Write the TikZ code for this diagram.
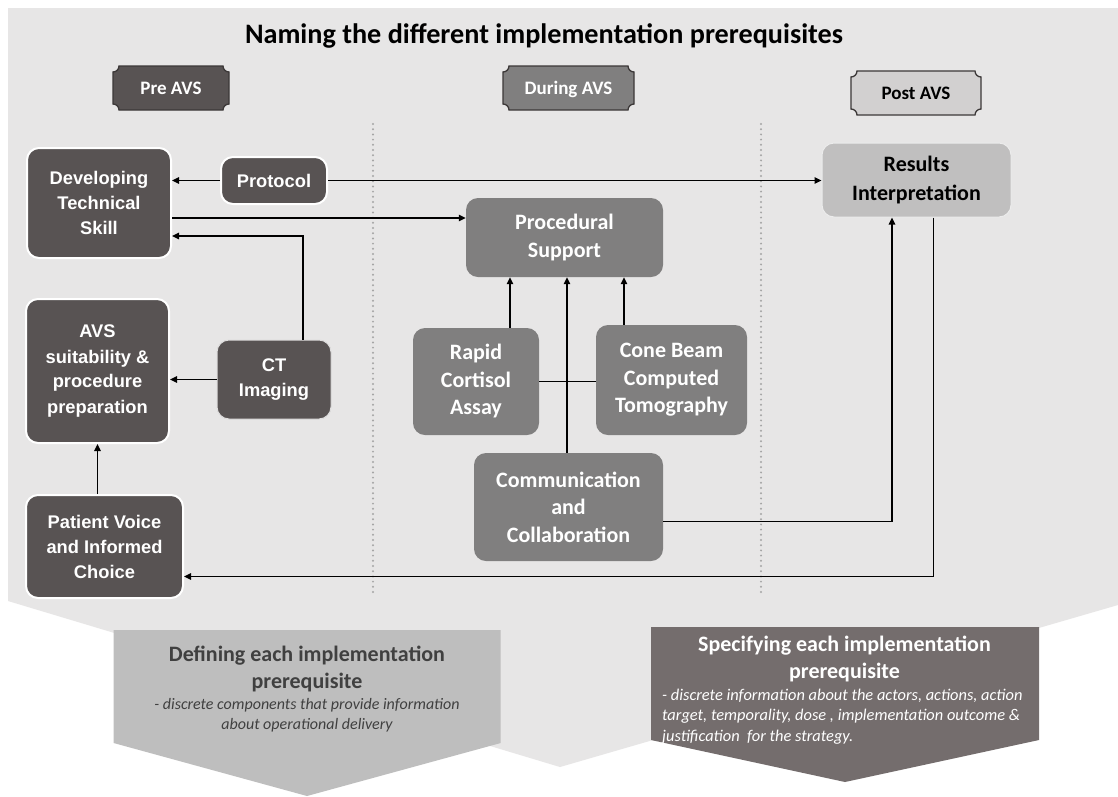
\documentclass[tikz,border=0pt]{standalone}
\usepackage{fontspec}
\setmainfont{Carlito}
\newfontfamily\arialfont{Liberation Sans}
\usetikzlibrary{arrows.meta}
\definecolor{bgc}{RGB}{231,230,230}
\definecolor{darkc}{RGB}{88,83,83}
\definecolor{midc}{RGB}{128,127,127}
\definecolor{resc}{RGB}{192,191,191}
\definecolor{postc}{RGB}{210,208,208}
\definecolor{plqline}{RGB}{60,56,56}
\definecolor{lpentc}{RGB}{190,190,190}
\definecolor{rpentc}{RGB}{116,109,109}
\definecolor{ltext}{RGB}{64,64,64}
\definecolor{dotc}{RGB}{165,165,165}
\newcommand{\plaquebox}[5]{%
  \draw[#1] (#2+6,#3) -- (#4-6,#3) .. controls (#4-6,#3+3.3) and (#4-3.3,#3+6) .. (#4,#3+6)
    -- (#4,#5-6) .. controls (#4-3.3,#5-6) and (#4-6,#5-3.3) .. (#4-6,#5)
    -- (#2+6,#5) .. controls (#2+6,#5-3.3) and (#2+3.3,#5-6) .. (#2,#5-6)
    -- (#2,#3+6) .. controls (#2+3.3,#3+6) and (#2+6,#3+3.3) .. cycle;}
\tikzset{
  darkbox/.style={draw=white, line width=2pt, fill=darkc, rounded corners=12pt, text=white,
    font=\arialfont\bfseries\fontsize{18.3}{25}\selectfont, align=center, inner sep=0pt},
  midbox/.style={fill=midc, rounded corners=12pt, text=white,
    font=\bfseries\fontsize{22}{27.5}\selectfont, align=center, inner sep=0pt},
  resbox/.style={fill=resc, draw=white!85!gray, line width=1pt, rounded corners=12pt, text=black,
    font=\bfseries\fontsize{22}{29}\selectfont, align=center, inner sep=0pt},
  plqtext/.style={font=\bfseries\fontsize{19}{23}\selectfont, anchor=base, inner sep=0pt},
  arr/.style={-{Triangle[length=7pt,width=6.5pt]}, line width=1.3pt, black},
  plainline/.style={line width=1.3pt, black},
  dotline/.style={dotc, line width=2.2pt, line cap=round, dash pattern=on 0pt off 5.2pt},
}
\begin{document}
\begin{tikzpicture}[x=1pt,y=-1pt]
\useasboundingbox (0,0) rectangle (1118,796);
\fill[white] (0,0) rectangle (1118,796);
% background chevron and bottom pentagons
\fill[bgc] (8,8) -- (1118,8) -- (1118,605) -- (560,767) -- (8,601) -- cycle;
\fill[lpentc] (113.6,630) -- (500.7,630) -- (500.7,743) -- (307,796) -- (113.6,743) -- cycle;
\fill[rpentc] (651,627) -- (1039,627) -- (1039,740) -- (845,782) -- (651,740) -- cycle;

% title
\node[font=\bfseries\fontsize{28.2}{33}\selectfont, anchor=base, inner sep=0pt] (title) at (544,43.3) {Naming the different implementation prerequisites};

% phase plaques
\plaquebox{fill=darkc, draw=plqline, line width=1.3pt}{113}{66}{229}{110}
\node[plqtext, text=white] (pre) at (171,94.3) {Pre AVS};
\plaquebox{fill=midc, draw=plqline, line width=1.3pt}{503}{66}{634}{110}
\node[plqtext, text=white] (during) at (568.5,94.3) {During AVS};
\plaquebox{fill=postc, draw=plqline, line width=1.3pt}{851}{71}{981}{115}
\node[plqtext, text=black] (post) at (916,99.3) {Post AVS};

% dotted separators
\draw[dotline] (373,124) -- (373,597);
\draw[dotline] (761,124) -- (761,597);

% boxes
\node[darkbox, minimum width=144, minimum height=110] (dev) at (99,203) {Developing\\Technical\\Skill};
\node[darkbox, minimum width=106, minimum height=47] (protocol) at (274,180.5) {Protocol};
\node[resbox, minimum width=189, minimum height=74] (results) at (916.5,180) {Results\\Interpretation};
\node[midbox, minimum width=197, minimum height=79] (proc) at (564.5,237.5) {Procedural\\Support};
\node[darkbox, minimum width=143, minimum height=144] (avs) at (97.5,371) {AVS\\suitability \&\\procedure\\preparation};
\node[darkbox, line width=1pt, draw=white!80!darkc, minimum width=114, minimum height=79] (ct) at (274,379.5) {CT\\Imaging};
\node[midbox, minimum width=126, minimum height=107] (rapid) at (476,381.5) {Rapid\\Cortisol\\Assay};
\node[midbox, minimum width=151, minimum height=110] (cone) at (671.5,380) {Cone Beam\\Computed\\Tomography};
\node[midbox, minimum width=189, minimum height=108] (comm) at (568.5,507) {Communication\\and\\Collaboration};
\node[darkbox, minimum width=157, minimum height=103] (patient) at (104.5,546.5) {Patient Voice\\and Informed\\Choice};

% connectors
\draw[arr] (protocol.west) -- (protocol.west -| dev.east);
\draw[arr] (protocol.east) -- (protocol.east -| results.west);
\draw[arr] ([yshift=-15pt]dev.east) -- ([yshift=-15pt]dev.east -| proc.west);
\draw[arr] ([xshift=29pt]ct.north) |- ([yshift=-33pt]dev.east);
\draw[arr] (ct.west) -- (ct.west -| avs.east);
\draw[arr] (avs.south |- patient.north) -- (avs.south);
\draw[arr] ([xshift=34pt]rapid.north) -- ([xshift=34pt]rapid.north |- proc.south);
\draw[arr] ([xshift=-47.5pt]cone.north) -- ([xshift=-47.5pt]cone.north |- proc.south);
\draw[arr] ([xshift=-1.5pt]comm.north) -- ([xshift=-1.5pt]comm.north |- proc.south);
\draw[plainline] (rapid.east) -- (rapid.east -| cone.west);
\draw[arr] ([yshift=-14.7pt]comm.east) -| ([xshift=-24.5pt]results.south);
\draw[arr] ([xshift=17pt]results.south) |- ([yshift=-30pt]patient.east);

% bottom texts
\node[font=\bfseries\fontsize{22}{26.3}\selectfont, text=ltext, align=center, inner sep=0pt] (deftitle) at (307,669) {Defining each implementation\\prerequisite};
\node[font=\itshape\fontsize{16}{20}\selectfont, text=ltext, align=center, inner sep=0pt] (defsub) at (307,715) {- discrete components that provide information\\about operational delivery};
\node[font=\bfseries\fontsize{22}{26.3}\selectfont, text=white, align=center, inner sep=0pt] (spectitle) at (844.5,659) {Specifying each implementation\\prerequisite};
\node[font=\itshape\fontsize{16.4}{20.5}\selectfont, text=white, align=left, inner sep=0pt, anchor=west] (specsub) at (662,716.5) {- discrete information about the actors, actions, action\\target, temporality, dose , implementation outcome \&\\justification\ \ for the strategy.};
\end{tikzpicture}
\end{document}
